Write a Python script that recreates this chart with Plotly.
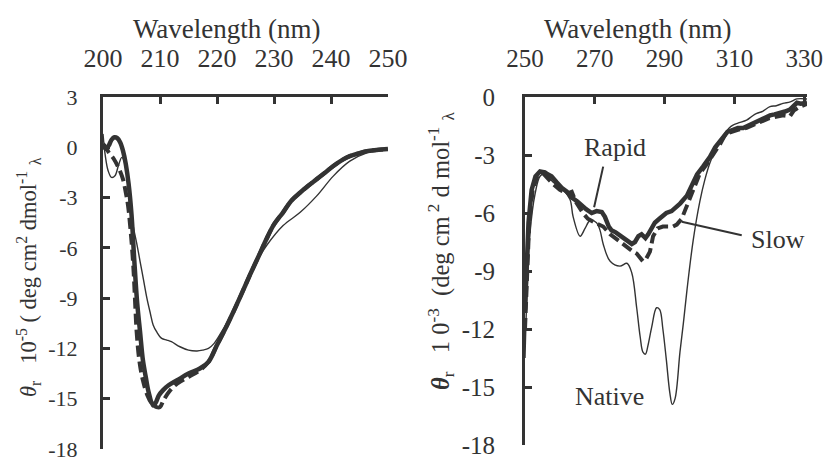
import plotly.graph_objects as go

# ---------------- Far-UV (left) ----------------
far_native_wl = [200, 200.4, 200.9, 201.5, 202.1, 202.7, 203.3, 203.8, 204.4, 205.3, 205.9, 206.5,
                 207.1, 207.7, 208.3, 208.8, 209.4, 210.3, 211.2, 212, 213.5, 215, 216.5, 217.5,
                 218.5, 219.5, 221, 222.9, 225.8, 227.5, 228.7, 231.6, 234.6, 237.5, 240.4, 243.3,
                 246.3, 250]
far_native = [0.8, -0.5, -1.4, -1.8, -1.7, -1.1, -0.6, -0.9, -2.2, -4.7, -5.7, -6.8,
              -7.9, -9.0, -9.9, -10.6, -11.0, -11.4, -11.5, -11.6, -11.9, -12.1, -12.15, -12.1,
              -12.0, -11.7, -10.9, -9.8, -7.6, -6.5, -5.86, -4.67, -3.88, -2.9, -1.72, -0.83,
              -0.33, -0.12]

far_rapid_wl = [200, 200.5, 201, 201.5, 202, 202.5, 203, 203.5, 204, 204.5, 205, 205.5, 206, 206.5,
                207, 207.5, 208, 208.8, 209.3, 209.8, 210.5, 211.5, 213, 215, 217, 218.5, 220,
                221.5, 222.9, 224.5, 225.8, 227.3, 228.7, 230, 231.6, 233, 234.6, 236, 237.5, 239,
                240.4, 242, 243.3, 245, 246.3, 248, 250]
far_rapid = [0.15, -0.1, 0.1, 0.45, 0.6, 0.55, 0.3, -0.2, -1.0, -2.2, -4.0, -6.8, -9.3, -11.0,
             -12.7, -13.7, -14.6, -15.4, -15.2, -14.8, -14.5, -14.2, -13.9, -13.5, -13.2, -12.8, -11.8,
             -10.8, -9.8, -8.6, -7.6, -6.5, -5.46, -4.6, -3.88, -3.2, -2.7, -2.3, -1.9, -1.5,
             -1.12, -0.75, -0.53, -0.35, -0.23, -0.16, -0.1]

far_slow_wl = [200, 200.5, 201, 201.9, 202.7, 203.5, 204, 204.4, 204.9, 205.3, 205.6, 205.9, 206.4,
               207, 207.8, 208.6, 209.4, 210, 210.6, 211.8, 213, 215, 217, 218.5, 220, 221.5,
               222.9, 224.5, 225.8, 227.3, 228.7, 230, 231.6, 233, 234.6, 236, 237.5, 239, 240.4,
               242, 243.3, 245, 246.3, 248, 250]
far_slow = [0.2, 0.0, -0.3, -0.7, -1.2, -1.9, -2.7, -3.5, -5.2, -7.0, -9.0, -11.0, -12.8,
            -13.9, -14.8, -15.3, -15.5, -15.5, -15.1, -14.5, -14.1, -13.7, -13.3, -12.8, -11.8, -10.8,
            -9.8, -8.6, -7.6, -6.5, -5.46, -4.6, -3.88, -3.2, -2.7, -2.3, -1.9, -1.5, -1.12,
            -0.75, -0.53, -0.35, -0.23, -0.16, -0.1]

# ---------------- Near-UV (right) ----------------
near_native_wl = [250, 250.5, 251.4, 252.9, 254.3, 255.7, 258, 260.9, 262.9, 263.8, 265.8, 267.2,
                  268.6, 270.5, 271.5, 272.4, 274.4, 277.2, 279.2, 280.6, 282, 283, 283.8, 284.5,
                  285.3, 286.3, 287.7, 288.6, 289.5, 290.5, 291.5, 292.2, 293, 294.4, 295.5, 296.4,
                  298.2, 300.1, 301.5, 303, 305, 306.8, 308.5, 309.6, 311, 313.5, 315, 316.4, 318,
                  320.2, 322, 323.9, 326, 327.9, 330.8]
near_native = [-13.5, -10.5, -7.1, -5.0, -4.1, -3.95, -4.4, -4.8, -5.3, -6.2, -7.2, -6.8,
               -6.4, -6.5, -6.9, -7.6, -8.5, -8.75, -8.6, -9.1, -10.9, -12.4, -13.2, -13.3,
               -12.8, -11.9, -10.9, -11.0, -12.0, -13.6, -15.3, -15.9, -15.6, -13.2, -11.5, -10.0,
               -7.4, -5.4, -4.3, -3.4, -2.6, -2.0, -1.6, -1.45, -1.35, -1.2, -1.0, -0.85, -0.75,
               -0.5, -0.45, -0.33, -0.25, -0.1, -0.1]

near_rapid_wl = [250, 250.5, 251, 251.9, 253, 254.3, 255.7, 256.5, 257.6, 259, 260.5, 262, 263.4,
                 265, 266.2, 267.5, 269.1, 270.5, 272, 272.9, 274, 274.8, 276, 277.7, 279, 280.6,
                 281.5, 282.5, 283.4, 284.5, 285.3, 286.2, 287.2, 288.5, 289.2, 290.5, 292, 293.5,
                 294.5, 296.4, 298, 299.3, 301, 303, 304.5, 306.8, 308, 309.6, 311, 312.5, 313.6,
                 315, 317.3, 318.5, 320.2, 321.5, 323, 324.5, 325.9, 327, 327.9, 329, 330.8]
near_rapid = [-11.0, -8.5, -6.5, -4.8, -4.1, -3.85, -3.9, -4.0, -4.1, -4.4, -4.7, -4.9, -5.2,
              -5.4, -5.6, -5.8, -6.0, -5.9, -5.95, -6.2, -6.7, -6.9, -7.0, -7.2, -7.4, -7.6,
              -7.5, -7.2, -7.1, -7.3, -7.1, -6.8, -6.5, -6.3, -6.2, -6.0, -5.9, -5.7,
              -5.5, -5.1, -4.5, -4.0, -3.6, -3.1, -2.6, -2.05, -1.8, -1.7, -1.6, -1.6, -1.5,
              -1.4, -1.2, -1.1, -0.95, -0.9, -0.85, -0.75, -0.65, -0.45, -0.3, -0.35, -0.3]

near_slow_wl = [250, 250.5, 251.2, 252.2, 253.5, 255.2, 256.5, 258, 260, 262, 263.4, 264.5, 266.6,
                268, 270, 272.4, 274.4, 276.5, 279.2, 281, 282, 283.2, 283.8, 284.6, 285.8, 286.7,
                288, 289.5, 291, 292.4, 293.5, 294.9, 296, 297.3, 298.7, 300.1, 302, 303.9, 306,
                307.5, 309, 311, 313.5, 315, 317.3, 320, 322, 324, 325.9, 327, 328.8, 330.8]
near_slow = [-12.0, -9.0, -6.5, -4.8, -4.1, -3.95, -4.2, -4.5, -4.8, -5.0, -4.9, -5.4, -6.0,
             -6.3, -6.5, -6.7, -7.1, -7.4, -7.8, -8.0, -8.1, -8.4, -8.5, -8.4, -8.0, -7.2,
             -6.8, -6.7, -6.7, -6.7, -6.6, -6.3, -5.8, -5.2, -4.5, -3.95, -3.5, -3.0, -2.4,
             -1.9, -1.8, -1.7, -1.6, -1.5, -1.3, -1.1, -1.0, -0.95, -1.0, -0.7, -0.5, -0.35]

left_xticks = [200, 210, 220, 230, 240, 250]
left_yticks = [3, 0, -3, -6, -9, -12, -15, -18]
right_xticks = [250, 270, 290, 310, 330]
right_yticks = [0, -3, -6, -9, -12, -15, -18]

INK = "#333333"
FONT = "Liberation Serif"
W, H = 831, 462


def px(x):
    return x / W


def py(y):
    return 1 - y / H


fig = go.Figure()

thin = dict(color=INK, width=1.4)
thick = dict(color=INK, width=4.5)
dashed = dict(color=INK, width=4, dash="11px,5px")

fig.add_trace(go.Scatter(x=far_native_wl, y=far_native, mode="lines", line=dict(**thin, shape="spline"),
                         xaxis="x", yaxis="y", name="Native"))
fig.add_trace(go.Scatter(x=far_slow_wl, y=far_slow, mode="lines", line=dict(**dashed, shape="spline"),
                         xaxis="x", yaxis="y", name="Slow"))
fig.add_trace(go.Scatter(x=far_rapid_wl, y=far_rapid, mode="lines", line=dict(**thick, shape="spline"),
                         xaxis="x", yaxis="y", name="Rapid"))

fig.add_trace(go.Scatter(x=near_native_wl, y=near_native, mode="lines", line=dict(**thin, shape="spline"),
                         xaxis="x2", yaxis="y2", name="Native"))
fig.add_trace(go.Scatter(x=near_slow_wl, y=near_slow, mode="lines", line=dict(**dashed),
                         xaxis="x2", yaxis="y2", name="Slow"))
fig.add_trace(go.Scatter(x=near_rapid_wl, y=near_rapid, mode="lines", line=dict(**thick),
                         xaxis="x2", yaxis="y2", name="Rapid"))

axis_common = dict(showgrid=False, zeroline=False, showline=True, linecolor=INK, linewidth=3,
                   ticks="inside", tickcolor=INK, tickwidth=3, ticklen=7, automargin=False,
                   ticklabeloverflow="allow")

fig.update_layout(
    width=W, height=H,
    margin=dict(l=0, r=0, t=0, b=0),
    paper_bgcolor="white", plot_bgcolor="white",
    showlegend=False,
    font=dict(family=FONT, color=INK),
    xaxis=dict(**axis_common, domain=[px(103), px(388)], range=[200, 250], side="top",
               tickvals=left_xticks, ticktext=[str(v) for v in left_xticks],
               tickfont=dict(size=26, family=FONT, color=INK), anchor="y", ticklabelstandoff=17),
    yaxis=dict(**axis_common, domain=[py(449), py(97)], range=[-18, 3],
               tickvals=left_yticks, ticktext=[str(v) for v in left_yticks],
               tickfont=dict(size=22, family=FONT, color=INK), anchor="x", ticklabelstandoff=18),
    xaxis2=dict(**axis_common, domain=[px(525), px(807)], range=[250, 330.8], side="top",
                tickvals=right_xticks, ticktext=[str(v) for v in right_xticks],
                tickfont=dict(size=25, family=FONT, color=INK), anchor="y2", ticklabelstandoff=17),
    yaxis2=dict(**axis_common, domain=[py(445), py(97)], range=[-18, 0],
                tickvals=right_yticks, ticktext=[str(v) for v in right_yticks],
                tickfont=dict(size=25, family=FONT, color=INK), anchor="x2", ticklabelstandoff=22),
)

mid = dict(xanchor="center", yanchor="middle", showarrow=False)
annotations = [
    dict(text="Wavelength (nm)", x=px(227), y=py(29), xref="paper", yref="paper",
         font=dict(size=27, family=FONT, color=INK), **mid),
    dict(text="Wavelength (nm)", x=px(638), y=py(29), xref="paper", yref="paper",
         font=dict(size=27, family=FONT, color=INK), **mid),
    dict(text="<i>θ</i><sub>r</sub>   10<sup>-5</sup> ( deg cm<sup>2</sup> dmol<sup>-1</sup> <sub>λ</sub>",
         x=px(28), y=py(277), xref="paper", yref="paper", textangle=-90,
         font=dict(size=22.5, family=FONT, color=INK), **mid),
    dict(text="<b><i>θ</i></b><sub>r</sub>   1 0<sup>-3</sup>  (deg cm<sup> 2</sup> d mol<sup>-1</sup> <sub>λ</sub>",
         x=px(441), y=py(251), xref="paper", yref="paper", textangle=-90,
         font=dict(size=24.5, family=FONT, color=INK), **mid),
    dict(text="Rapid", x=275.8, y=-2.6, xref="x2", yref="y2",
         font=dict(size=26, family=FONT, color=INK), **mid),
    dict(text="Slow", x=322.5, y=-7.36, xref="x2", yref="y2",
         font=dict(size=26, family=FONT, color=INK), **mid),
    dict(text="Native", x=274.1, y=-15.5, xref="x2", yref="y2",
         font=dict(size=26, family=FONT, color=INK), **mid),
]
fig.update_layout(annotations=annotations)

fig.update_layout(shapes=[
    dict(type="line", xref="x2", yref="y2", x0=272.4, y0=-3.6, x1=269.8, y1=-5.7,
         line=dict(color=INK, width=2)),
    dict(type="line", xref="x2", yref="y2", x0=294.9, y0=-6.45, x1=312.1, y1=-7.15,
         line=dict(color=INK, width=2)),
])

fig.write_html("out.html", config={"displayModeBar": False},
               post_script="document.body.style.margin='0';document.body.style.padding='0';")
